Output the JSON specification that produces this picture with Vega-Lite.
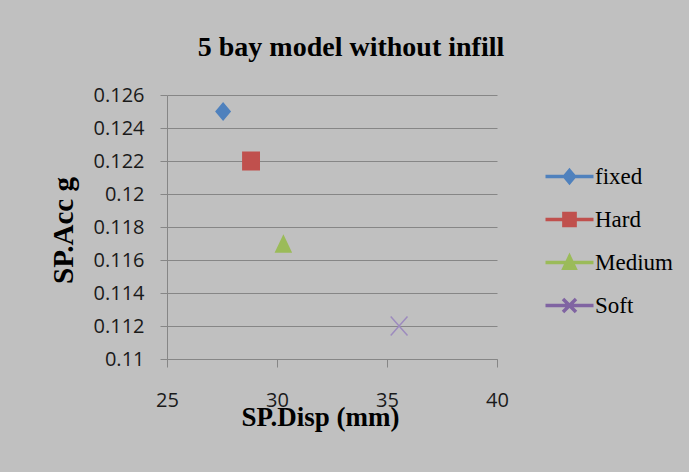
{
  "$schema": "https://vega.github.io/schema/vega-lite/v6.json",
  "autosize": "none",
  "width": 330,
  "height": 264,
  "padding": {"left": 167, "top": 95, "right": 192, "bottom": 113},
  "background": "#c0c0c0",
  "title": {
    "text": "5 bay model without infill",
    "font": "Liberation Serif",
    "fontSize": 28,
    "fontWeight": "bold",
    "color": "#000000",
    "anchor": "middle",
    "frame": "group",
    "baseline": "alphabetic",
    "offset": 1,
    "dx": 19
  },
  "data": {
    "values": [
      {"series": "fixed", "disp": 27.55, "acc": 0.125},
      {"series": "Hard", "disp": 28.82, "acc": 0.122},
      {"series": "Medium", "disp": 30.29, "acc": 0.117},
      {"series": "Soft", "disp": 35.55, "acc": 0.112}
    ]
  },
  "encoding": {
    "x": {
      "field": "disp",
      "type": "quantitative",
      "scale": {"domain": [25, 40], "nice": false, "zero": false},
      "axis": {
        "title": "SP.Disp (mm)",
        "values": [25, 30, 35, 40],
        "grid": false,
        "tickSize": 8,
        "labelPadding": 23,
        "labelFlush": false,
        "titleX": 153,
        "titleY": 66,
        "titleAlign": "center",
        "titleBaseline": "alphabetic"
      }
    },
    "y": {
      "field": "acc",
      "type": "quantitative",
      "scale": {"domain": [0.11, 0.126], "nice": false, "zero": false},
      "axis": {
        "title": "SP.Acc g",
        "values": [0.11, 0.112, 0.114, 0.116, 0.118, 0.12, 0.122, 0.124, 0.126],
        "format": ".3~f",
        "grid": true,
        "tickSize": 7,
        "labelPadding": 16,
        "labelFlush": false,
        "titleX": -95,
        "titleY": 135,
        "titleAngle": 270,
        "titleAlign": "center",
        "titleBaseline": "alphabetic"
      }
    }
  },
  "layer": [
    {
      "mark": {"type": "point", "filled": true, "opacity": 1, "size": 256},
      "encoding": {
        "shape": {
          "field": "series",
          "type": "nominal",
          "scale": {
            "domain": ["fixed", "Hard", "Medium", "Soft"],
            "range": [
              "M-4.8,0L4.8,0M0,-1.2L1,0L0,1.2L-1,0Z",
              "M-4.8,0L4.8,0M-1.12,-1.18L1.12,-1.18L1.12,1.18L-1.12,1.18Z",
              "M-4.8,0L4.8,0M0,-1.17L1.1,1.17L-1.1,1.17Z",
              "M-4.8,0L4.8,0M-1.3,-1.3L1.3,1.3M1.3,-1.3L-1.3,1.3"
            ]
          },
          "legend": {
            "title": null,
            "orient": "none",
            "legendX": 391,
            "legendY": 70,
            "padding": 0,
            "symbolSize": 100,
            "symbolStrokeWidth": 3.5,
            "labelOffset": 14,
            "rowPadding": 16,
            "labelFont": "Liberation Serif",
            "labelFontSize": 23,
            "labelColor": "#000000"
          }
        },
        "fill": {
          "field": "series",
          "type": "nominal",
          "scale": {
            "domain": ["fixed", "Hard", "Medium", "Soft"],
            "range": ["#4F81BD", "#C0504D", "#9BBB59", "transparent"]
          }
        },
        "stroke": {
          "field": "series",
          "type": "nominal",
          "scale": {
            "domain": ["fixed", "Hard", "Medium", "Soft"],
            "range": ["#4F81BD", "#C0504D", "#9BBB59", "#8064A2"]
          }
        },
        "strokeOpacity": {"value": 0},
        "strokeWidth": {"value": 0}
      }
    },
    {
      "transform": [{"filter": "datum.series === 'Soft'"}],
      "mark": {
        "type": "point",
        "filled": false,
        "opacity": 1,
        "size": 256,
        "shape": "M-1.05,-1.2L1.05,1.2M1.05,-1.2L-1.05,1.2",
        "stroke": "#9D8BBE",
        "strokeWidth": 1.5
      }
    }
  ],
  "config": {
    "view": {"stroke": null},
    "axis": {
      "labelFont": "Open Sans",
      "labelFontSize": 20,
      "labelColor": "#1a1a1a",
      "titleFont": "Liberation Serif",
      "titleFontWeight": "bold",
      "titleColor": "#000000",
      "domainColor": "#868686",
      "tickColor": "#868686",
      "gridColor": "#868686",
      "domainWidth": 1,
      "tickWidth": 1,
      "gridWidth": 1
    },
    "axisX": {"titleFontSize": 27},
    "axisY": {"titleFontSize": 29}
  }
}
